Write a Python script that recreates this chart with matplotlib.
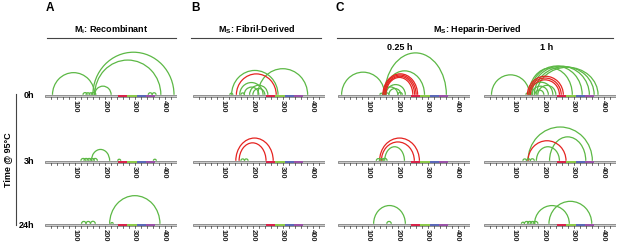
import matplotlib
matplotlib.use("Agg")
import matplotlib.pyplot as plt
from matplotlib.patches import Arc, Rectangle

plt.rcParams['font.family'] = ['Liberation Sans', 'DejaVu Sans']
plt.rcParams['mathtext.fontset'] = 'custom'
plt.rcParams['mathtext.rm'] = 'Liberation Sans'
plt.rcParams['mathtext.bf'] = 'Liberation Sans:bold'

# protein length and repeat domains (R1-R4)
seq_len = 441
domain_edges = [244, 275, 306, 337, 368]
domain_colors = ['#d8234a', '#8cc84b', '#5b68b8', '#9a52a8']
tick_labels = [100, 200, 300, 400]

GREEN = '#5cb845'
RED = '#e52421'

# contacts: (start residue, end residue, colour[, arc height in residue units])
recomb_0h = [(25, 166, 'g'), (160, 431, 'g'), (166, 387, 'g'), (166, 221, 'g'),
             (127, 141, 'g'), (137, 150, 'g'), (147, 160, 'g'), (155, 170, 'g'),
             (345, 358, 'g'), (358, 371, 'g')]
recomb_3h = [(155, 216, 'g', 38), (120, 135, 'g'), (130, 145, 'g'), (140, 155, 'g'),
             (150, 165, 'g'), (160, 175, 'g'), (243, 253, 'g'), (362, 372, 'g')]
recomb_24h = [(216, 384, 'g', 94), (122, 137, 'g'), (137, 152, 'g'), (152, 168, 'g'),
              (220, 228, 'g')]

fibril_0h = [(129, 284, 'g'), (217, 383, 'g'), (156, 234, 'g'), (171, 220, 'g'),
             (189, 250, 'g'), (200, 240, 'g'), (123, 133, 'g'), (160, 172, 'g'),
             (145, 278, 'r')]
fibril_3h = [(143, 268, 'r', 76), (154, 244, 'r', 60), (160, 172, 'g'), (172, 184, 'g')]
fibril_24h = []

hep025_0h = [(12, 156, 'g'), (156, 362, 'g', 140), (156, 289, 'g', 80), (150, 200, 'g'),
             (160, 225, 'g'), (170, 210, 'g'), (140, 150, 'g'), (148, 160, 'g'),
             (158, 170, 'g'), (200, 215, 'g'),
             (150, 266, 'r', 70), (153, 261, 'r', 66), (157, 256, 'r', 62), (160, 250, 'r', 58)]
hep025_3h = [(139, 272, 'r', 76), (145, 255, 'r', 63), (156, 222, 'g', 47),
             (128, 142, 'g'), (138, 152, 'g'), (148, 164, 'g')]
hep025_24h = [(119, 225, 'g', 61), (163, 178, 'g')]

hep1_0h = [(25, 152, 'g'), (150, 295, 'g', 90), (155, 328, 'g', 96), (160, 352, 'g', 96),
           (168, 368, 'g', 94), (176, 381, 'g', 92), (150, 230, 'g'), (160, 215, 'g'),
           (170, 200, 'g'), (180, 240, 'g'), (140, 152, 'g'), (150, 162, 'g'),
           (145, 265, 'r', 62), (150, 258, 'r', 56), (155, 252, 'r', 50)]
hep1_3h = [(147, 362, 'g'), (175, 252, 'g', 47), (219, 340, 'g', 80), (147, 274, 'r', 67),
           (130, 142, 'g'), (142, 155, 'g'), (155, 168, 'g')]
hep1_24h = [(169, 285, 'g'), (217, 360, 'g'), (125, 135, 'g'), (135, 150, 'g'),
            (145, 160, 'g'), (155, 170, 'g'), (165, 180, 'g')]

panels = [[recomb_0h, fibril_0h, hep025_0h, hep1_0h],
          [recomb_3h, fibril_3h, hep025_3h, hep1_3h],
          [recomb_24h, fibril_24h, hep025_24h, hep1_24h]]
row_labels = ['0h', '3h', '24h']

W, H = 617, 242
fig = plt.figure(figsize=(W / 100, H / 100), dpi=100)

# overlay in pixel coordinates for titles and lines
ov = fig.add_axes([0, 0, 1, 1])
ov.set_xlim(0, W)
ov.set_ylim(H, 0)
ov.axis('off')

col_x = [45, 193, 338, 484]
row_y = [96, 162, 225]
pw = 132
s = seq_len / pw  # residues per pixel

for r, ybar in enumerate(row_y):
    for c, x0 in enumerate(col_x):
        ax = fig.add_axes([x0 / W, 1 - (ybar + 25) / H, pw / W, 75 / H])
        ax.set_xlim(0, seq_len)
        ax.set_ylim(-25 * s, 50 * s)
        ax.axis('off')
        ax.add_patch(Rectangle((0, -5), seq_len, 10, fc='#c9c9c9', ec='#6f6f6f', lw=0.5))
        for i in range(4):
            ax.add_patch(Rectangle((domain_edges[i], -4.5), domain_edges[i + 1] - domain_edges[i],
                                   9, fc=domain_colors[i], ec='none'))
        for t in range(20, seq_len, 20):
            ax.plot([t, t], [-5, -9], color='#333333', lw=0.5)
        for t in tick_labels:
            ax.text(t, -12, str(t), rotation=-90, ha='center', va='top',
                    fontsize=5.4, fontweight='bold', color='#222222')
        for arc in panels[r][c]:
            a, b, col = arc[:3]
            h = arc[3] if len(arc) > 3 else (b - a) / 2 * 1.05
            ax.add_patch(Arc(((a + b) / 2, 4), b - a, 2 * h, theta1=0, theta2=180,
                             color=GREEN if col == 'g' else RED, lw=0.9))
    ov.text(34, ybar, row_labels[r], ha='right', va='center', fontsize=6.5, fontweight='bold')

# panel letters and headers
for x, lab in [(50, 'A'), (196, 'B'), (340, 'C')]:
    ov.text(x, 8, lab, ha='center', va='center', fontsize=8.5, fontweight='bold')

ov.text(111, 30, r'$\mathbf{M_i}$: Recombinant', ha='center', va='center', fontsize=6.5, fontweight='bold')
ov.text(256, 30, r'$\mathbf{M_S}$: Fibril-Derived', ha='center', va='center', fontsize=6.5, fontweight='bold')
ov.text(477, 30, r'$\mathbf{M_S}$: Heparin-Derived', ha='center', va='center', fontsize=6.5, fontweight='bold')
ov.plot([47, 176], [38, 38], color='#444444', lw=0.8)
ov.plot([191, 321], [38, 38], color='#444444', lw=0.8)
ov.plot([337, 613], [38, 38], color='#444444', lw=0.8)
ov.text(400, 48, '0.25 h', ha='center', va='center', fontsize=6.5, fontweight='bold')
ov.text(547, 48, '1 h', ha='center', va='center', fontsize=6.5, fontweight='bold')

# time axis
ov.plot([16, 16], [94, 225], color='#444444', lw=0.8)
ov.text(8, 160, 'Time @ 95°C', rotation=90, ha='center', va='center', fontsize=6.5, fontweight='bold')

fig.savefig('out.png', dpi=100)
